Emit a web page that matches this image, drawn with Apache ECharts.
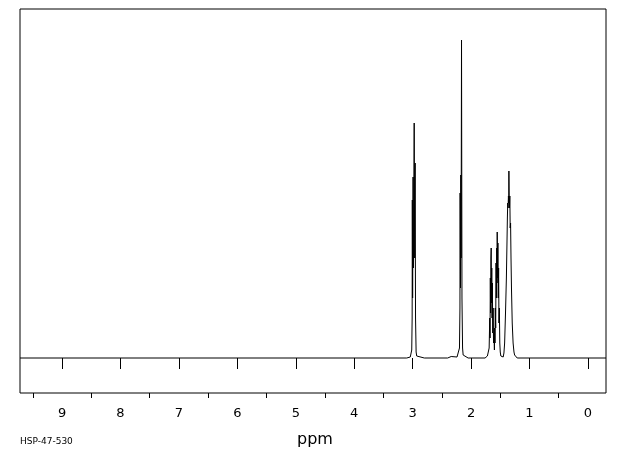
<!DOCTYPE html>
<html>
<head>
<meta charset="utf-8">
<script src="https://cdn.jsdelivr.net/npm/echarts@6/dist/echarts.min.js"></script>
<style>
  html, body { margin: 0; padding: 0; background: #fff; }
  #main { width: 620px; height: 455px; }
</style>
</head>
<body>
<div id="main"></div>
<script>
// 化学位移 (ppm) 与强度
var shift = [
  9.72, 3.10, 3.04, 3.025, 3.015, 3.008, 3.005, 3.0, 2.992, 2.985, 2.973, 2.965, 2.957, 2.95, 2.94, 2.93, 2.90, 2.80,
  2.40, 2.34, 2.32, 2.24, 2.21, 2.198, 2.19, 2.187, 2.18, 2.175, 2.17, 2.163, 2.155, 2.145, 2.135, 2.12, 2.05,
  1.76, 1.72, 1.70, 1.69, 1.68, 1.675, 1.67, 1.665, 1.66, 1.655, 1.65, 1.645, 1.64, 1.635, 1.628, 1.622, 1.615,
  1.608, 1.60, 1.595, 1.59, 1.585, 1.578, 1.572, 1.566, 1.56, 1.555, 1.552, 1.546, 1.54, 1.534, 1.528, 1.522,
  1.515, 1.508, 1.50, 1.49, 1.47, 1.45, 1.437, 1.425, 1.41, 1.395, 1.385, 1.378, 1.372, 1.366, 1.36, 1.355,
  1.352, 1.347, 1.342, 1.336, 1.33, 1.323, 1.316, 1.308, 1.295, 1.28, 1.265, 1.254, 1.23, 1.21, -0.31
];
var intensity = [
  0, 0, 1, 3, 8, 40, 158, 60, 181, 90, 235, 100, 195, 40, 6, 2, 1, 0,
  0, 1.5, 0, 1, 3, 10, 50, 165, 70, 183, 100, 318, 60, 10, 3, 1, 0,
  0, 2, 4, 10, 40, 20, 80, 45, 100, 110, 55, 90, 40, 75, 25, 50, 15,
  25, 8, 30, 15, 50, 30, 95, 60, 110, 75, 126, 80, 115, 60, 90, 35,
  50, 15, 6, 2, 0, 1, 5, 15, 45, 80, 115, 140, 155, 150, 162, 155,
  187, 160, 150, 162, 130, 135, 100, 70, 35, 15, 6, 3, 1, 0, 0
];
var majorTicks = [0, 1, 2, 3, 4, 5, 6, 7, 8, 9];
var minorTicks = [0.5, 1.5, 2.5, 3.5, 4.5, 5.5, 6.5, 7.5, 8.5, 9.5];

var chart = echarts.init(document.getElementById('main'));

var spectrum = [];
for (var i = 0; i < shift.length; i++) {
  spectrum.push([shift[i], intensity[i]]);
}

var option = {
  animation: false,
  backgroundColor: '#fff',
  grid: {
    left: 20, right: 14, top: 9, bottom: 62,
    show: true, borderColor: '#000', borderWidth: 1, backgroundColor: 'transparent'
  },
  xAxis: [{
    type: 'value', position: 'bottom', inverse: true,
    min: -0.31, max: 9.72,
    axisLine: { show: false },
    splitLine: { show: false },
    axisTick: { show: true, inside: false, length: 11, customValues: majorTicks,
      lineStyle: { color: '#000', width: 1 } },
    axisLabel: { show: true, customValues: majorTicks, margin: 14,
      color: '#000', fontFamily: 'DejaVu Sans', fontSize: 13 }
  }, {
    type: 'value', position: 'bottom', inverse: true,
    min: -0.31, max: 9.72,
    axisLine: { show: false },
    splitLine: { show: false },
    axisTick: { show: true, inside: false, length: 5, customValues: minorTicks,
      lineStyle: { color: '#000', width: 1 } },
    axisLabel: { show: false }
  }],
  yAxis: {
    type: 'value', min: -35, max: 349,
    show: false
  },
  series: [{
    type: 'line',
    xAxisIndex: 0,
    data: spectrum,
    symbol: 'none',
    lineStyle: { color: '#000', width: 1 },
    silent: true
  }],
  graphic: [{
    type: 'text', left: 297, top: 432,
    style: { text: 'ppm', fill: '#000', font: '16px "DejaVu Sans"' }
  }, {
    type: 'text', left: 20, top: 437,
    style: { text: 'HSP-47-530', fill: '#000', font: '9px "DejaVu Sans"' }
  }]
};
chart.setOption(option);
</script>
</body>
</html>
